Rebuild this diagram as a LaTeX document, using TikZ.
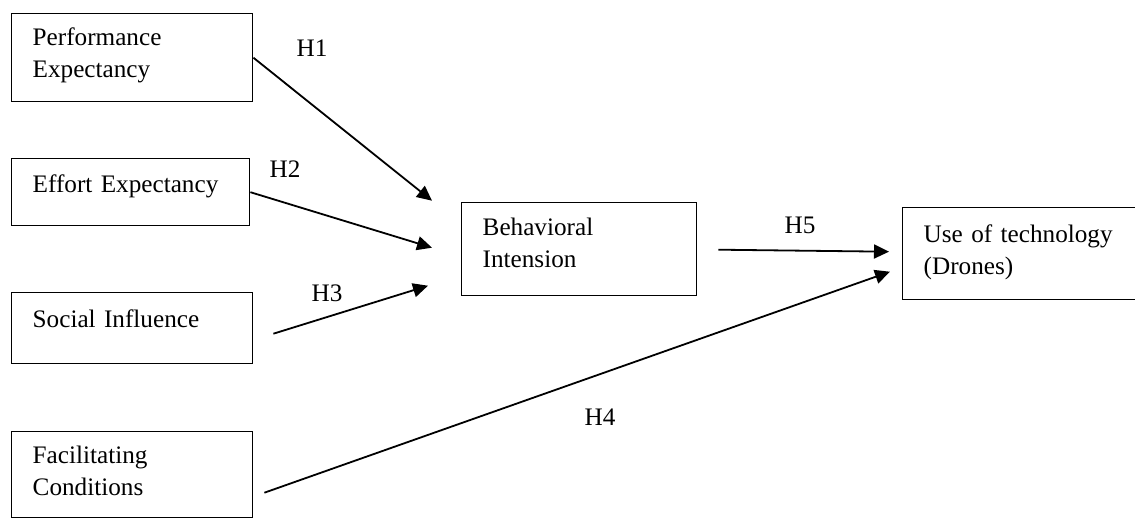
\documentclass[tikz,border=0pt]{standalone}
\usepackage{fontspec}
\setmainfont{Liberation Serif}
\usetikzlibrary{arrows.meta,calc}
\tikzset{
    construct/.style={
        draw,
        line width=0.7pt,
        anchor=north west,
        align=left,
        inner xsep=10.5pt,
        inner ysep=0pt,
        font=\fontsize{12.6}{16}\selectfont
    },
    hypo/.style={
        font=\fontsize{12.6}{16}\selectfont,
        inner sep=0pt
    },
    path link/.style={
        line width=0.9pt,
        -{Triangle[length=7.5pt,width=7pt]}
    }
}
\begin{document}
\begin{tikzpicture}[x=0.5pt,y=-0.5pt]
\useasboundingbox (0,0) rectangle (1135,519);
\node[construct, text width=99.5pt, text height=16pt, text depth=28pt] (perf) at (11,13)
  {Performance\\Expectancy};
\node[construct, text width=98pt, text height=17pt, text depth=16.5pt] (effort) at (11,158)
  {Effort Expectancy};
\node[construct, text width=99.5pt, text height=17.5pt, text depth=18pt] (social) at (11,292)
  {Social Influence};
\node[construct, text width=99.5pt, text height=16pt, text depth=27pt] (facil) at (11,431)
  {Facilitating\\Conditions};
\node[construct, text width=96.5pt, text height=16.5pt, text depth=30pt] (intent) at (461,202)
  {Behavioral\\Intension};
\node[construct, text width=96pt, text height=17.5pt, text depth=28.5pt] (usage) at (902,207)
  {Use of technology\\(Drones)};
% hypothesis labels
\node[hypo] (h1) at (312,48) {H1};
\node[hypo] (h2) at (285,169) {H2};
\node[hypo] (h3) at (327,293) {H3};
\node[hypo] (h4) at (600,417) {H4};
\node[hypo] (h5) at (800,225) {H5};
% paths
\draw[path link] (perf.east) -- ($(intent.west)+(-29,-48.5)$);
\draw[path link] (effort.east) -- ($(intent.west)+(-29,-1.5)$);
\draw[path link] ($(social.east)+(20,5.5)$) -- ($(intent.west)+(-33,36.5)$);
\draw[path link] ($(facil.east)+(11,18)$) -- ($(usage.west)+(-12,18)$);
\draw[path link] ($(intent.east)+(21,0.5)$) -- ($(usage.west)+(-13,-2)$);
\end{tikzpicture}
\end{document}
